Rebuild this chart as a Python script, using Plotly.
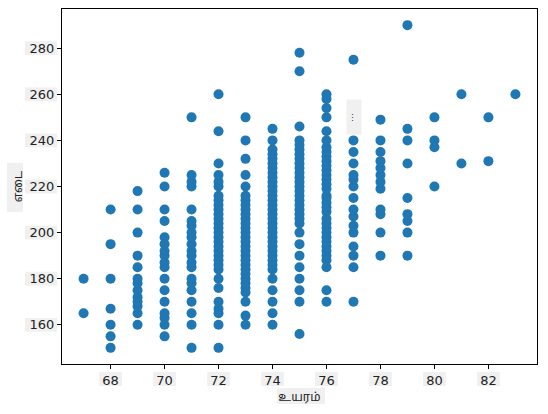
import plotly.graph_objects as go

# weight readings (lbs) for each height (inches)
h67 = [165, 180]
h68 = [150, 155, 160, 167, 180, 195, 210]
h69 = [160, 165, 168, 170, 172, 175, 178, 180, 185, 190, 200, 210, 218]
h70 = [155, 160, 163, 165, 170, 175, 180, 185, 187, 190, 192, 195, 198,
       205, 210, 220, 226]
h71 = [150, 160, 165, 170, 175, 178, 180, 185, 187, 190, 192, 195, 198,
       200, 203, 205, 210, 220, 222, 225, 250]
h72 = [150, 160, 165, 167, 170, 176, 180, 184, 186, 188, 190, 192, 194,
       196, 198, 200, 202, 204, 206, 208, 210, 212, 214, 216, 220, 222,
       225, 230, 244, 260]
h73 = [160, 164, 170, 174, 176, 178, 180, 182, 184, 186, 188, 190, 192,
       194, 196, 198, 200, 202, 204, 206, 208, 210, 212, 214, 216, 220,
       225, 232, 240, 250]
h74 = [160, 165, 170, 175, 180, 184, 186, 188, 190, 192, 194, 196, 198,
       200, 202, 204, 206, 208, 210, 212, 214, 216, 218, 220, 222, 224,
       226, 228, 230, 232, 234, 236, 240, 245]
h75 = [156, 170, 175, 180, 185, 190, 195, 200, 204, 206, 208, 210, 212,
       214, 216, 218, 220, 222, 224, 226, 228, 230, 232, 234, 236, 238,
       240, 246, 270, 278]
h76 = [170, 175, 185, 188, 190, 192, 194, 196, 198, 200, 202, 204, 206,
       209, 211, 213, 215, 216, 219, 221, 223, 225, 227, 229, 231, 233,
       235, 237, 240, 244, 250, 254, 258, 260]
h77 = [170, 185, 190, 194, 200, 203, 207, 210, 215, 220, 223, 225, 230,
       235, 240, 275]
h78 = [190, 200, 208, 210, 219, 222, 225, 228, 231, 235, 240, 249]
h79 = [190, 200, 205, 208, 215, 230, 240, 245, 290]
h80 = [220, 237, 240, 250]
h81 = [230, 260]
h82 = [231, 250]
h83 = [260]

heights = [67, 68, 69, 70, 71, 72, 73, 74, 75, 76, 77, 78, 79, 80, 81, 82, 83]
weights = [h67, h68, h69, h70, h71, h72, h73, h74, h75, h76, h77, h78, h79,
           h80, h81, h82, h83]

x_ticks = [68, 70, 72, 74, 76, 78, 80, 82]
y_ticks = [160, 180, 200, 220, 240, 260, 280]

xs, ys = [], []
for h, ws in zip(heights, weights):
    xs += [h] * len(ws)
    ys += ws

W, H = 548, 414
L, R, T, B = 62, 11, 9, 50
pw, ph = W - L - R, H - T - B


def px(x):
    return (x - L) / pw


def py(y):
    return (H - B - y) / ph


grey = "#f0f0f0"
shapes = []
# light boxes behind the tick labels
for t in y_ticks:
    shapes.append(dict(type="rect", xref="paper", yref="y", layer="below",
                       x0=px(25), x1=px(57), y0=t - 3, y1=t + 3,
                       fillcolor=grey, line_width=0))
for t in x_ticks:
    shapes.append(dict(type="rect", xref="x", yref="paper", layer="below",
                       x0=t - 0.42, x1=t + 0.42, y0=py(386), y1=py(372),
                       fillcolor=grey, line_width=0))
# boxes behind the axis titles
shapes.append(dict(type="rect", xref="paper", yref="paper", layer="below",
                   x0=px(7), x1=px(23), y0=py(212), y1=py(163),
                   fillcolor=grey, line_width=0))
shapes.append(dict(type="rect", xref="paper", yref="paper", layer="below",
                   x0=px(277), x1=px(325), y0=py(404), y1=py(388),
                   fillcolor=grey, line_width=0))

fig = go.Figure(go.Scatter(
    x=xs, y=ys, mode="markers",
    marker=dict(color="#1f77b4", size=10, line_width=0),
))

axis = dict(showline=True, mirror=True, linecolor="black", linewidth=1,
            ticks="outside", ticklen=4, tickcolor="black", showgrid=False,
            zeroline=False, tickfont=dict(family="DejaVu Sans", size=13,
                                          color="#222"))
tamil = "Noto Sans Tamil, Noto Sans, DejaVu Sans"

fig.update_layout(
    width=W, height=H,
    margin=dict(l=L, r=R, t=T, b=B),
    paper_bgcolor="white", plot_bgcolor="white",
    showlegend=False,
    shapes=shapes,
    xaxis=dict(axis, range=[66.2, 83.8], tickvals=x_ticks,
               title=dict(text="உயரம்", standoff=6,
                          font=dict(family=tamil, size=12, color="#222"))),
    yaxis=dict(axis, range=[143, 297], tickvals=y_ticks,
               title=dict(text="எடை", standoff=4,
                          font=dict(family=tamil, size=12, color="#222"))),
    annotations=[dict(text="⋮", xref="paper", yref="paper", x=px(346),
                      y=py(99), xanchor="left", yanchor="top", showarrow=False,
                      width=12, height=32, align="left", bgcolor=grey,
                      font=dict(size=9, color="#333"))],
)

fig.write_html("out.html", config={"displayModeBar": False},
               post_script="document.body.style.margin='0';")
